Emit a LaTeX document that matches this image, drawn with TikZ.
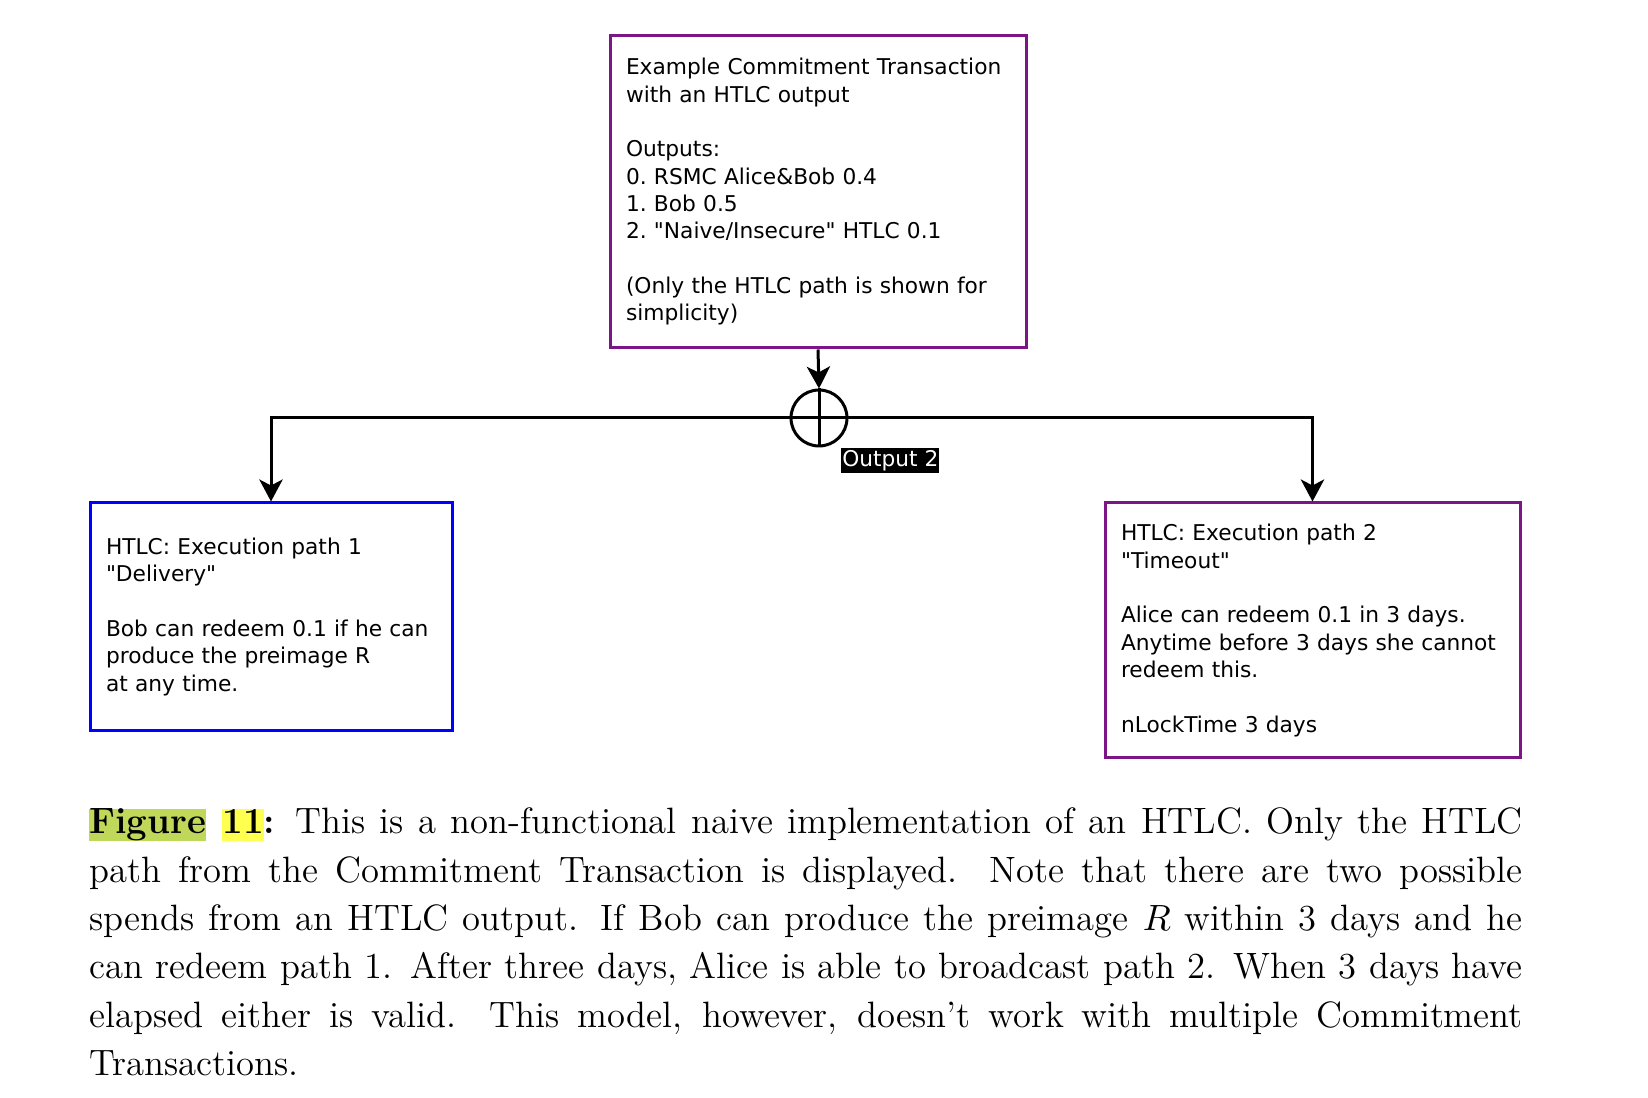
\documentclass[tikz,border=0pt]{standalone}
\usepackage{fontspec}
\newfontfamily\dejavu{DejaVu Sans}
\usetikzlibrary{arrows.meta,positioning}
\definecolor{txpurple}{RGB}{124,22,134}
\definecolor{figgreen}{RGB}{192,216,90}
\definecolor{figyellow}{RGB}{255,255,80}
\newcommand{\hlbox}[2]{{\setlength{\fboxsep}{0pt}\colorbox{#1}{\vphantom{Fg}#2}}}
\tikzstyle{txbox} = [rectangle, draw=txpurple, line width=0.9pt, align=left,
    font=\dejavu\fontsize{6.52}{8.2}\selectfont\frenchspacing, inner xsep=4.8pt, inner ysep=0pt]
\tikzstyle{spendbox} = [txbox, draw=blue]
\tikzstyle{outsplit} = [circle, draw, line width=0.9pt, minimum size=16.8pt, inner sep=0pt]
\tikzstyle{outlabel} = [fill=black, text=white, font=\dejavu\fontsize{6.5}{8.2}\selectfont,
    inner xsep=0.3pt, inner ysep=0.6pt]

\begin{document}
\begin{tikzpicture}[->,>={Stealth[length=6.6pt,width=7pt,inset=1.8pt]},line width=0.9pt,
                    x=0.3pt,y=-0.3pt]
  \useasboundingbox (0,0) rectangle (1648,1098);

  \node[txbox, text width=115.2pt, minimum height=93.6pt] (commit) at (818,192)
    {Example Commitment Transaction\\with an HTLC output\\[8.2pt]
     Outputs:\\0. RSMC Alice\&Bob 0.4\\1. Bob 0.5\\2. "Naive/Insecure" HTLC 0.1\\[8.2pt]
     (Only the HTLC path is shown for\\simplicity)};
  \node[outsplit] (split) at (819,418) {};
  \node[outlabel, anchor=north west, below right=2.4pt and 0pt of split.south east] (outtwo) {Output 2};
  \node[spendbox, text width=99pt, minimum height=68.4pt] (delivery) at (271,617)
    {HTLC: Execution path 1\\"Delivery"\\[8.2pt]
     Bob can redeem 0.1 if he can\\produce the preimage R\\at any time.};
  \node[txbox, text width=114.9pt, minimum height=76.5pt] (timeout) at (1312.5,630.5)
    {HTLC: Execution path 2\\"Timeout"\\[8.2pt]
     Alice can redeem 0.1 in 3 days.\\Anytime before 3 days she cannot\\redeem this.\\[8.2pt]
     nLockTime 3 days};

  \draw (commit.south) -- (split.north);
  \draw[-] (split.north) -- (split.south);
  \draw[-] (split.west) -- (split.east);
  \draw (split.west) -| (delivery.north);
  \draw (split.east) -| (timeout.north);

  % caption
  \node[anchor=base west, text width=430pt, inner sep=0pt, align=justify,
        font=\fontsize{11}{14.5}\selectfont] (caption) at (88,834)
    {\textbf{\hlbox{figgreen}{Figure} \hlbox{figyellow}{11}:} This is a non-functional naive
     implementation of an HTLC. Only the HTLC\linebreak path from the Commitment Transaction
     is displayed. Note that there are two possible\linebreak spends from an HTLC output. If
     Bob can produce the preimage $R$ within 3 days and he\linebreak can redeem path 1. After
     three days, Alice is able to broadcast path 2. When 3 days have\linebreak elapsed either
     is valid. This model, however, doesn't work with multiple Commitment\linebreak
     Transactions.};
\end{tikzpicture}
\end{document}
